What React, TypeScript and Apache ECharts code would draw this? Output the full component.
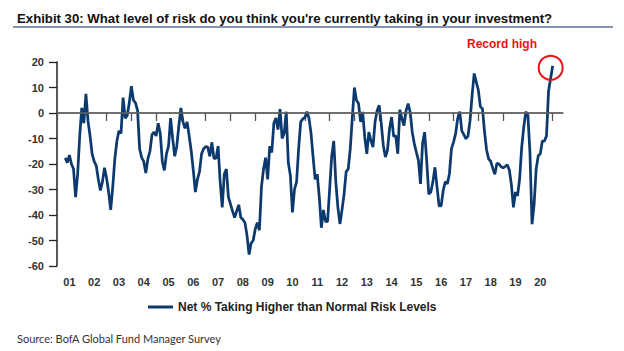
import React, { useEffect, useRef } from "react";
import * as echarts from "echarts";

// Monthly categories Jan 2001 .. Jun 2021 (axis runs a little past the last reading)
const startYear = 2001;
const monthCount = 246;
const months: string[] = [];
for (let i = 0; i < monthCount; i++) {
  const y = startYear + Math.floor(i / 12);
  const m = (i % 12) + 1;
  months.push(`${y}-${m < 10 ? "0" + m : m}`);
}

// Net % of FMS investors taking higher than normal risk
const netRisk2001 = [null, null, null, null, -17.6, -19.5, -16.5, -20, -22, -33, -24, -9];
const netRisk2002 = [2, -4, 7.5, -3, -9, -16, -19, -20.6, -26, -30.4, -27, -21.5];
const netRisk2003 = [-25.5, -31, -38, -29, -18, -11, -7, -8, 6, -2, -1, 4];
const netRisk2004 = [10.5, 5, 4, 1, -14, -17.5, -19, -23.5, -18, -15, -8.5, -7.5];
const netRisk2005 = [-9, -4, -8, -19, -22.5, -16, -13, -2, -10, -17, -13, -5];
const netRisk2006 = [2, -3.5, -6, -3.5, -9, -15, -22.5, -31, -26, -23, -16, -14];
const netRisk2007 = [-13.2, -13.4, -17, -11.5, -17.8, -17.8, -13, -27, -37, -24, -22, -33];
const netRisk2008 = [-35.7, -38.5, -41, -38.5, -36, -41, -41.8, -43, -48, -55.5, -51, -50];
const netRisk2009 = [-45.5, -43, -46, -29, -22, -17.5, -26, -13, -15.5, -4, -2, -6.5];
const netRisk2010 = [1.5, -10, -8, 0.5, -19.5, -24.5, -39, -30, -27, -14, -3.5, -2.3];
const netRisk2011 = [-1.8, 0.5, -2, -8, -17.3, -26, -24, -33, -45, -38, -42.5, -42.6];
const netRisk2012 = [-30, -17, -11, -27, -37, -43.5, -38, -31.8, -23, -22, -14, -1.6];
const netRisk2013 = [10, 5, 3.7, -3.5, 0.4, -9.4, -16, -7.5, -10.8, -13.4, -3.5, 1];
const netRisk2014 = [3, -4.2, -12.7, -17.3, -14.7, -6.2, -1.6, -9.2, -8.9, -16, 1.3, -2.2];
const netRisk2015 = [-4.9, 0.8, 3.7, 0.4, -7.5, -12, -15.4, -18.6, -27.8, -12, -7.5, -18.6];
const netRisk2016 = [-31.8, -31, -27, -21.3, -29, -36.4, -36.4, -30.4, -27, -27.8, -23.9, -14];
const netRisk2017 = [-11.4, -8.1, -2.2, 0.5, -7, -8.5, -10.1, -9, -3, 7, 15.5, 12.2];
const netRisk2018 = [9, 2.5, 1.7, -7.3, -14.5, -18, -19, -21.7, -24, -19.7, -20, -21];
const netRisk2019 = [-21.5, -21, -20.3, -22.3, -28, -37, -31, -32.5, -25.8, -13.5, -5.5, 0.5];
const netRisk2020 = [-1, -15.5, -43.6, -36, -22, -16.8, -16, -11, -11, -9, 8.5, 13.5];
const netRisk2021 = [18.5];

const seriesName = "Net % Taking Higher than Normal Risk Levels";
const yTicks = { min: -60, max: 20, step: 10 };

export default function App() {
  const ref = useRef<HTMLDivElement>(null);

  useEffect(() => {
    document.body.style.margin = "0";
    if (!ref.current) return;
    const chart = echarts.init(ref.current, undefined, { renderer: "svg" });

    const values: (number | null)[] = [
      ...netRisk2001, ...netRisk2002, ...netRisk2003, ...netRisk2004, ...netRisk2005,
      ...netRisk2006, ...netRisk2007, ...netRisk2008, ...netRisk2009, ...netRisk2010,
      ...netRisk2011, ...netRisk2012, ...netRisk2013, ...netRisk2014, ...netRisk2015,
      ...netRisk2016, ...netRisk2017, ...netRisk2018, ...netRisk2019, ...netRisk2020,
      ...netRisk2021,
    ];
    const lastIdx = values.length - 1;
    while (values.length < monthCount) values.push(null);

    chart.setOption({
      animation: false,
      title: {
        text: "Exhibit 30: What level of risk do you think you're currently taking in your investment?",
        left: 12,
        top: 7,
        textStyle: {
          fontFamily: "'Liberation Sans', Arial, sans-serif",
          fontWeight: "bold",
          fontSize: 13.2,
          color: "#111",
        },
      },
      graphic: [
        {
          type: "line",
          shape: { x1: 13, y1: 27, x2: 613, y2: 27 },
          style: { stroke: "#5d7196", lineWidth: 1.5 },
        },
        {
          type: "text",
          left: 467,
          top: 38,
          style: {
            text: "Record high",
            fill: "#ee1111",
            font: "bold 12px 'Liberation Sans', Arial, sans-serif",
          },
        },
        {
          type: "text",
          left: 17,
          top: 333,
          style: {
            text: "Source: BofA Global Fund Manager Survey",
            fill: "#333",
            font: "11px Lato, 'Open Sans', sans-serif",
          },
        },
      ],
      legend: {
        left: 143,
        top: 296,
        itemWidth: 25,
        itemHeight: 3,
        itemGap: 10,
        icon: "rect",
        textStyle: {
          fontFamily: "'Liberation Sans', Arial, sans-serif",
          fontWeight: "bold",
          fontSize: 12,
          color: "#222",
        },
        data: [seriesName],
      },
      grid: { left: 57, right: 61, top: 62, bottom: 351 - 266 },
      xAxis: {
        type: "category",
        data: months,
        boundaryGap: false,
        axisLine: { lineStyle: { color: "#666", width: 1.5 } },
        axisTick: {
          length: 8,
          interval: (i: number) => i % 12 === 0,
          lineStyle: { color: "#555", width: 1.3 },
        },
        axisLabel: {
          interval: (i: number) => i % 12 === 6,
          formatter: (v: string) => v.slice(2, 4),
          margin: 10,
          fontFamily: "'Liberation Sans', Arial, sans-serif",
          fontWeight: "bold",
          fontSize: 11,
          color: "#333",
        },
        splitLine: { show: false },
      },
      yAxis: {
        type: "value",
        min: yTicks.min,
        max: yTicks.max,
        interval: yTicks.step,
        axisLine: { show: true, lineStyle: { color: "#222", width: 1.5 } },
        axisTick: { show: true, length: 8, lineStyle: { color: "#222", width: 1.3 } },
        axisLabel: {
          margin: 13,
          fontFamily: "'Liberation Sans', Arial, sans-serif",
          fontWeight: "bold",
          fontSize: 11,
          color: "#333",
        },
        splitLine: { show: false },
      },
      series: [
        {
          name: seriesName,
          type: "line",
          data: values,
          showSymbol: false,
          symbol: "none",
          lineStyle: { color: "#0d3a6e", width: 2.75 },
          itemStyle: { color: "#0d3a6e" },
          markLine: {
            silent: true,
            symbol: "none",
            label: { show: false },
            lineStyle: { color: "#666", width: 1.5, type: "solid" },
            data: [{ yAxis: 0 }],
          },
          markPoint: {
            silent: true,
            symbol: "circle",
            symbolSize: 24,
            symbolOffset: [-2, 2],
            label: { show: false },
            itemStyle: { color: "rgba(0,0,0,0)", borderColor: "#ee1111", borderWidth: 2 },
            data: [{ coord: [months[lastIdx], values[lastIdx]] }],
          },
        },
      ],
    });

    return () => chart.dispose();
  }, []);

  return <div ref={ref} style={{ width: 624, height: 351 }} />;
}
